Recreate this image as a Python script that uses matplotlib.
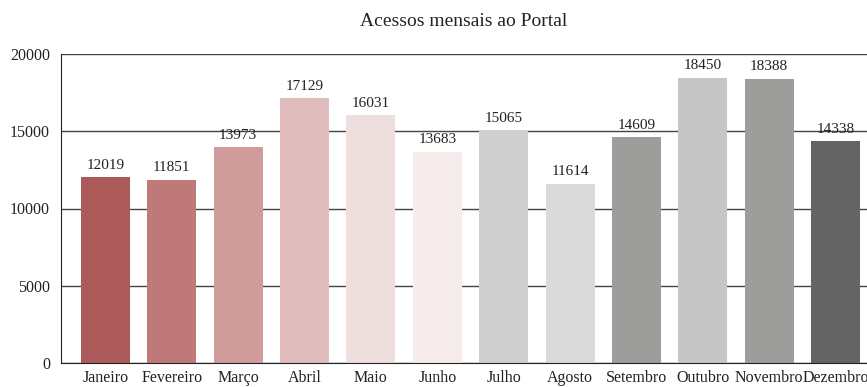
import matplotlib.pyplot as plt

meses = ['Janeiro', 'Fevereiro', 'Março', 'Abril', 'Maio', 'Junho',
         'Julho', 'Agosto', 'Setembro', 'Outubro', 'Novembro', 'Dezembro']
acessos = [12019, 11851, 13973, 17129, 16031, 13683,
           15065, 11614, 14609, 18450, 18388, 14338]
cores = ['#AB5A59', '#BF7978', '#CF9C9B', '#E0BDBC', '#EFDEDE', '#F5ECEB',
         '#CFCFCF', '#DADADA', '#9D9D9C', '#C6C6C6', '#9D9D9C', '#646464']
yticks = [0, 5000, 10000, 15000, 20000]

plt.rcParams['font.family'] = ['Liberation Serif', 'DejaVu Serif']

fig = plt.figure(figsize=(8.67, 3.87), dpi=100)
ax = fig.add_axes([61 / 867, 24 / 387, 806 / 867, 309 / 387])

x = list(range(len(meses)))
ax.bar(x, acessos, width=0.738, color=cores, zorder=2)
for xi, v in zip(x, acessos):
    ax.annotate(str(v), (xi, v), xytext=(0, 4), textcoords='offset points',
                ha='center', va='bottom', fontsize=11, color='#222222')

ax.set_xlim(-0.67, 11.475)
ax.set_ylim(0, 20000)
ax.set_yticks(yticks)
ax.yaxis.grid(True, color='#444444', linewidth=1, zorder=1)
ax.set_axisbelow(True)
ax.set_xticks(x)
ax.set_xticklabels(meses)
ax.tick_params(axis='both', length=0, labelsize=11.5, colors='#222222')
ax.tick_params(axis='y', pad=8)
ax.tick_params(axis='x', pad=5)

for s in ['top', 'right']:
    ax.spines[s].set_visible(False)
ax.spines['left'].set_color('#222222')
ax.spines['bottom'].set_color('#222222')

ax.set_title('Acessos mensais ao Portal', fontsize=14, pad=20, color='#222222')

fig.savefig('out.png', dpi=100)
